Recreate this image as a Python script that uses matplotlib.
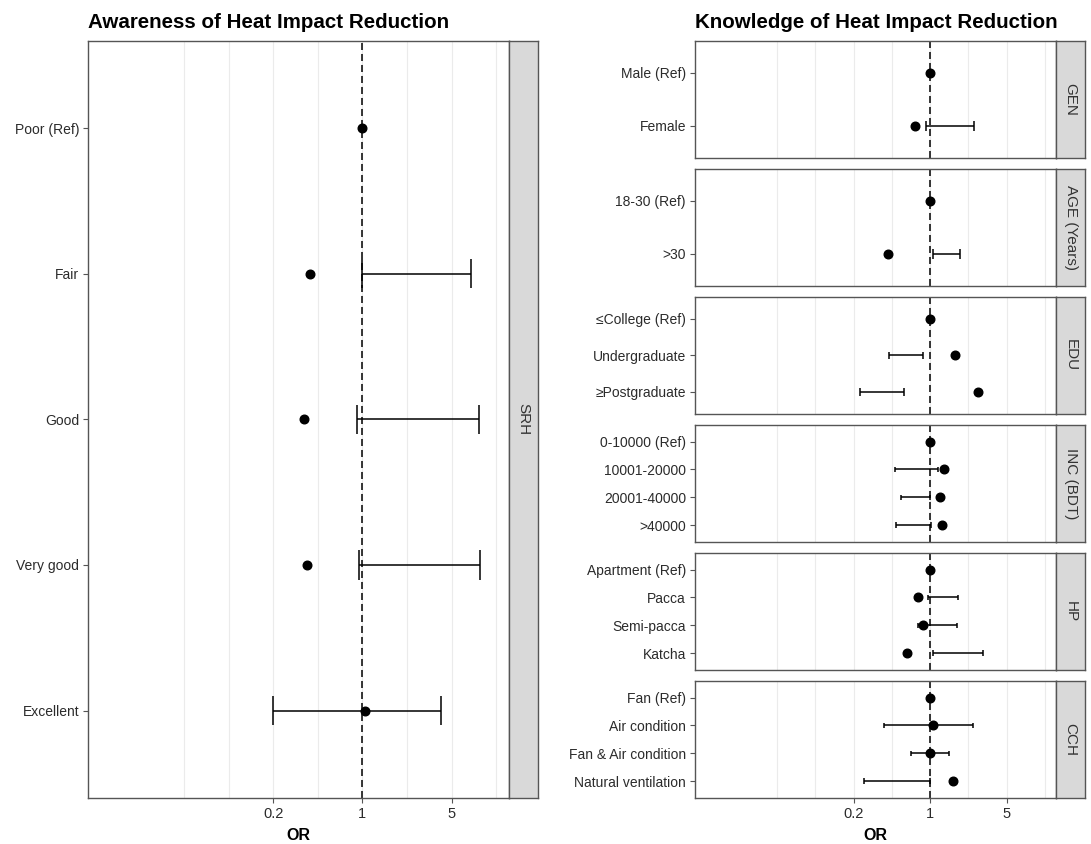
import numpy as np
import matplotlib
matplotlib.use("Agg")
import matplotlib.pyplot as plt

plt.rcParams["font.family"] = ["Liberation Sans", "DejaVu Sans"]

# ---- data (odds ratios and confidence limits) ----
srh_labels = ["Poor (Ref)", "Fair", "Good", "Very good", "Excellent"]
srh_or = [1.0, 0.39, 0.35, 0.37, 1.04]
srh_lo = [np.nan, 1.0, 0.91, 0.94, 0.198]
srh_hi = [np.nan, 7.07, 8.28, 8.3, 4.15]

gen_labels = ["Male (Ref)", "Female"]
gen_or = [1.0, 0.72]
gen_lo = [np.nan, 0.91]
gen_hi = [np.nan, 2.51]

age_labels = ["18-30 (Ref)", ">30"]
age_or = [1.0, 0.41]
age_lo = [np.nan, 1.05]
age_hi = [np.nan, 1.86]

edu_labels = ["\u2264College (Ref)", "Undergraduate", "\u2265Postgraduate"]
edu_or = [1.0, 1.67, 2.75]
edu_lo = [np.nan, 0.42, 0.23]
edu_hi = [np.nan, 0.86, 0.58]

inc_labels = ["0-10000 (Ref)", "10001-20000", "20001-40000", ">40000"]
inc_or = [1.0, 1.33, 1.22, 1.28]
inc_lo = [np.nan, 0.48, 0.54, 0.49]
inc_hi = [np.nan, 1.19, 1.0, 1.02]

hp_labels = ["Apartment (Ref)", "Pacca", "Semi-pacca", "Katcha"]
hp_or = [1.0, 0.77, 0.86, 0.61]
hp_lo = [np.nan, 0.95, 0.78, 1.05]
hp_hi = [np.nan, 1.79, 1.75, 3.02]

cch_labels = ["Fan (Ref)", "Air condition", "Fan & Air condition", "Natural ventilation"]
cch_or = [1.0, 1.05, 0.99, 1.6]
cch_lo = [np.nan, 0.38, 0.667, 0.247]
cch_hi = [np.nan, 2.44, 1.5, 1.0]

x_breaks = [0.2, 1, 5]
x_grid = [0.04, 0.0894, 0.2, 0.447, 1, 2.236, 5, 11.18]
x_limits = (0.01, 10)

right_panels = [
    ("GEN", gen_labels, gen_or, gen_lo, gen_hi),
    ("AGE (Years)", age_labels, age_or, age_lo, age_hi),
    ("EDU", edu_labels, edu_or, edu_lo, edu_hi),
    ("INC (BDT)", inc_labels, inc_or, inc_lo, inc_hi),
    ("HP", hp_labels, hp_or, hp_lo, hp_hi),
    ("CCH", cch_labels, cch_or, cch_lo, cch_hi),
]

W, H = 1091, 844
fig = plt.figure(figsize=(W / 100, H / 100), dpi=100)

BORDER = "#555555"
TICKLAB = "#2B2B2B"


def px_axes(x0, y0, x1, y1):
    # pixel box (top-left origin) -> figure axes
    return fig.add_axes([x0 / W, 1 - y1 / H, (x1 - x0) / W, (y1 - y0) / H])


def log_expand(lims, mult=0.05):
    lo, hi = np.log10(lims[0]), np.log10(lims[1])
    d = (hi - lo) * mult
    return 10 ** (lo - d), 10 ** (hi + d)


def draw_panel(ax, labels, ors, lo, hi, show_x):
    n = len(labels)
    y = np.arange(1, n + 1)
    ax.set_xscale("log")
    ax.set_xlim(*log_expand(x_limits))
    ax.set_ylim(n + 0.6, 0.4)
    for g in x_grid:
        ax.axvline(g, color="#EBEBEB", lw=0.8, zorder=0)
    ax.axvline(1, color="black", ls=(0, (4.6, 2.6)), lw=1.1, zorder=1)
    lo = np.array(lo)
    hi = np.array(hi)
    ok = ~np.isnan(lo)
    ax.hlines(y[ok], lo[ok], hi[ok], color="black", lw=1.1, zorder=2)
    ax.vlines(lo[ok], y[ok] - 0.1, y[ok] + 0.1, color="black", lw=1.1, zorder=2)
    ax.vlines(hi[ok], y[ok] - 0.1, y[ok] + 0.1, color="black", lw=1.1, zorder=2)
    ax.plot(ors, y, "o", color="black", ms=6.2, zorder=3)
    ax.set_yticks(y)
    ax.set_yticklabels(labels)
    ax.minorticks_off()
    ax.set_xticks(x_breaks)
    if show_x:
        ax.set_xticklabels([str(b) for b in x_breaks])
        ax.tick_params(axis="x", length=3.5, width=0.8, color=BORDER,
                       labelsize=10.5, labelcolor=TICKLAB, pad=3)
    else:
        ax.set_xticklabels([])
        ax.tick_params(axis="x", length=0)
    ax.tick_params(axis="y", length=3.5, width=0.8, color=BORDER,
                   labelsize=10, labelcolor=TICKLAB, pad=3)
    for s in ax.spines.values():
        s.set_color(BORDER)
        s.set_linewidth(1.0)


def draw_strip(x0, y0, x1, y1, text):
    sa = px_axes(x0, y0, x1, y1)
    sa.set_facecolor("#D9D9D9")
    sa.set_xticks([])
    sa.set_yticks([])
    for s in sa.spines.values():
        s.set_color(BORDER)
        s.set_linewidth(1.0)
    sa.text(0.5, 0.5, text, rotation=270, ha="center", va="center",
            fontsize=11, color="#333333", transform=sa.transAxes)


# ---- left: awareness ----
L0, L1, LS = 88.3, 509, 538.3
TOP, BOT = 40.7, 798
axl = px_axes(L0, TOP, L1, BOT)
draw_panel(axl, srh_labels, srh_or, srh_lo, srh_hi, True)
draw_strip(L1, TOP, LS, BOT, "SRH")
fig.text(L0 / W, 1 - 28.5 / H, "Awareness of Heat Impact Reduction",
         fontsize=14.8, fontweight="bold", ha="left", va="baseline")
fig.text((L0 + L1) / 2 / W, 1 - 835 / H, "OR", fontsize=11.5,
         fontweight="bold", ha="center", va="center")

# ---- right: knowledge ----
R0, R1, RS = 695, 1056, 1085
gap = 10.9
ph = (BOT - TOP - gap * 5) / 6
for i, (name, labels, ors, lo, hi) in enumerate(right_panels):
    y0 = TOP + i * (ph + gap)
    ax = px_axes(R0, y0, R1, y0 + ph)
    draw_panel(ax, labels, ors, lo, hi, i == len(right_panels) - 1)
    draw_strip(R1, y0, RS, y0 + ph, name)
fig.text(R0 / W, 1 - 28.5 / H, "Knowledge of Heat Impact Reduction",
         fontsize=14.8, fontweight="bold", ha="left", va="baseline")
fig.text((R0 + R1) / 2 / W, 1 - 835 / H, "OR", fontsize=11.5,
         fontweight="bold", ha="center", va="center")

fig.savefig("out.png", dpi=100, facecolor="white")
